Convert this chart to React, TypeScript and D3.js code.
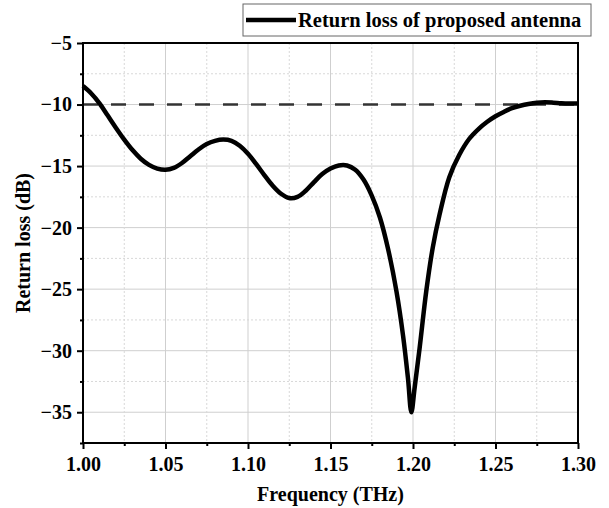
import React, { useEffect, useRef } from "react";
import * as d3 from "d3";

// frequency (THz) and return loss (dB)
const freq = [
  1.0, 1.005, 1.01, 1.015, 1.02, 1.025, 1.03, 1.035, 1.04, 1.045, 1.05, 1.055,
  1.06, 1.065, 1.07, 1.075, 1.08, 1.085, 1.09, 1.095, 1.1, 1.105, 1.11, 1.115,
  1.12, 1.125, 1.13, 1.135, 1.14, 1.145, 1.15, 1.155, 1.16, 1.165, 1.17, 1.175,
  1.18, 1.185, 1.19, 1.194, 1.197, 1.199, 1.201, 1.204, 1.208, 1.212, 1.216,
  1.222, 1.228, 1.234, 1.24, 1.245, 1.25, 1.255, 1.26, 1.265, 1.27, 1.275, 1.28,
  1.285, 1.29, 1.295, 1.3,
];
const returnLoss = [
  -8.5, -9.1, -9.9, -10.9, -11.9, -12.85, -13.7, -14.4, -14.9, -15.2, -15.3,
  -15.15, -14.75, -14.2, -13.65, -13.2, -12.95, -12.85, -12.95, -13.35, -14.0,
  -14.85, -15.75, -16.6, -17.25, -17.6, -17.5, -17.0, -16.3, -15.65, -15.2,
  -14.95, -14.95, -15.3, -16.1, -17.4, -19.2, -21.8, -25.2, -28.8, -32.3,
  -35.0, -33.0, -29.8, -25.2, -21.6, -19.0, -15.9, -14.1, -12.8, -11.95, -11.4,
  -10.95, -10.6, -10.3, -10.1, -9.95, -9.85, -9.82, -9.85, -9.9, -9.92, -9.92,
];

const xTicks = [1.0, 1.05, 1.1, 1.15, 1.2, 1.25, 1.3];
const xMinor = [1.025, 1.075, 1.125, 1.175, 1.225, 1.275];
const yTicks = [-5, -10, -15, -20, -25, -30, -35];
const yMinor = [-7.5, -12.5, -17.5, -22.5, -27.5, -32.5, -37.5];
const threshold = -10;
const seriesName = "Return loss of proposed antenna";

const sizes = { width: 609, height: 508 };
const margin = { top: 43, right: 31, bottom: 65, left: 83 };
const font = "'Liberation Serif', 'Times New Roman', serif";

export default function App() {
  const ref = useRef<SVGSVGElement>(null);

  useEffect(() => {
    const svg = d3.select(ref.current);
    svg.selectAll("*").remove();

    const x0 = margin.left;
    const x1 = sizes.width - margin.right;
    const y0 = margin.top;
    const y1 = sizes.height - margin.bottom;

    const x = d3.scaleLinear().domain([1.0, 1.3]).range([x0, x1]);
    const y = d3.scaleLinear().domain([-37.5, -5]).range([y1, y0]);

    // grid
    const grid = svg.append("g");
    grid.selectAll(".gx").data(xTicks).join("line")
      .attr("x1", (d) => x(d)).attr("x2", (d) => x(d))
      .attr("y1", y0).attr("y2", y1)
      .attr("stroke", "#cfcfcf").attr("stroke-width", 1);
    grid.selectAll(".gy").data(yTicks).join("line")
      .attr("x1", x0).attr("x2", x1)
      .attr("y1", (d) => y(d)).attr("y2", (d) => y(d))
      .attr("stroke", "#cfcfcf").attr("stroke-width", 1);
    grid.selectAll(".gxm").data(xMinor).join("line")
      .attr("x1", (d) => x(d)).attr("x2", (d) => x(d))
      .attr("y1", y0).attr("y2", y1)
      .attr("stroke", "#d8d8d8").attr("stroke-width", 1)
      .attr("stroke-dasharray", "2,2");
    grid.selectAll(".gym").data(yMinor).join("line")
      .attr("x1", x0).attr("x2", x1)
      .attr("y1", (d) => y(d)).attr("y2", (d) => y(d))
      .attr("stroke", "#d8d8d8").attr("stroke-width", 1)
      .attr("stroke-dasharray", "2,2");

    // -10 dB reference
    svg.append("line")
      .attr("x1", x(1.0)).attr("x2", x(1.3))
      .attr("y1", y(threshold)).attr("y2", y(threshold))
      .attr("stroke", "#333").attr("stroke-width", 2.5)
      .attr("stroke-dasharray", "15,13");

    // curve
    const pts = freq.map((f, i) => [f, returnLoss[i]] as [number, number]);
    const line = d3.line<[number, number]>()
      .x((d) => x(d[0])).y((d) => y(d[1]))
      .curve(d3.curveCatmullRom.alpha(0.5));
    svg.append("path")
      .attr("d", line(pts))
      .attr("fill", "none").attr("stroke", "#000")
      .attr("stroke-width", 4.5).attr("stroke-linejoin", "round");

    // axes
    const xAxis = svg.append("g").attr("transform", `translate(0,${y1})`)
      .call(d3.axisBottom(x).tickValues(xTicks).tickSize(6).tickPadding(8)
        .tickFormat(d3.format(".2f")));
    svg.append("g").attr("transform", `translate(0,${y1})`)
      .call(d3.axisBottom(x).tickValues(xMinor).tickSize(3).tickFormat(() => ""));
    const yAxis = svg.append("g").attr("transform", `translate(${x0},0)`)
      .call(d3.axisLeft(y).tickValues(yTicks).tickSize(6).tickPadding(5));
    svg.append("g").attr("transform", `translate(${x0},0)`)
      .call(d3.axisLeft(y).tickValues(yMinor).tickSize(3).tickFormat(() => ""));

    svg.selectAll(".domain").remove();
    svg.selectAll(".tick line").attr("stroke", "#000").attr("stroke-width", 2);
    [xAxis, yAxis].forEach((g) =>
      g.selectAll("text")
        .attr("font-family", font).attr("font-weight", "bold")
        .attr("font-size", 20).attr("fill", "#000"));

    // frame
    svg.append("rect")
      .attr("x", x0).attr("y", y0)
      .attr("width", x1 - x0).attr("height", y1 - y0)
      .attr("fill", "none").attr("stroke", "#000").attr("stroke-width", 2);

    // titles
    svg.append("text")
      .attr("x", (x0 + x1) / 2).attr("y", 501)
      .attr("text-anchor", "middle")
      .attr("font-family", font).attr("font-weight", "bold").attr("font-size", 20)
      .text("Frequency (THz)");
    svg.append("text")
      .attr("transform", `translate(30,${(y0 + y1) / 2}) rotate(-90)`)
      .attr("text-anchor", "middle")
      .attr("font-family", font).attr("font-weight", "bold").attr("font-size", 20)
      .text("Return loss (dB)");

    // legend
    const lg = svg.append("g");
    lg.append("rect")
      .attr("x", 243).attr("y", 4).attr("width", 348).attr("height", 32)
      .attr("fill", "#fff").attr("stroke", "#666").attr("stroke-width", 1);
    lg.append("line")
      .attr("x1", 246).attr("x2", 296).attr("y1", 20).attr("y2", 20)
      .attr("stroke", "#000").attr("stroke-width", 4.5);
    lg.append("text")
      .attr("x", 298).attr("y", 27)
      .attr("font-family", font).attr("font-weight", "bold").attr("font-size", 20.5)
      .text(seriesName);
  }, []);

  return (
    <svg
      ref={ref}
      width={sizes.width}
      height={sizes.height}
      style={{ position: "absolute", left: 0, top: 0, background: "#fff" }}
    />
  );
}
